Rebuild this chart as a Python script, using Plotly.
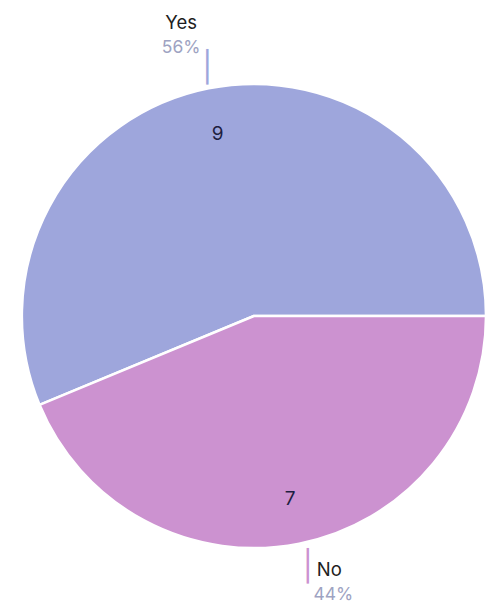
import plotly.graph_objects as go

labels = ["Yes", "No"]
values = [9, 7]
colors = ["#9ea6dc", "#cc92d0"]
pct_color = "#9ea3c2"

W, H = 491, 613
NB = "\u00a0"

# first slice ends at 3 o'clock, running counterclockwise from there
rotation = 90 - 360 * values[0] / sum(values)

common = dict(
    labels=labels,
    values=values,
    sort=False,
    direction="clockwise",
    domain=dict(x=[0.045, 1.0], y=[0.102, 0.867]),
    hoverinfo="skip",
)

pct = "<span style='color:" + pct_color + ";font-size:17.5px'>%{percent:.0%}</span>"


def bar(c):
    return ("<span style='color:" + c +
            ";font-size:30px;font-family:DejaVu Sans'>│</span>")


outside_templates = [
    "%{label}<br>" + pct + "<br>" + NB * 10 + bar(colors[0]),
    bar(colors[1]) + "%{label}<br>" + NB * 5 + pct,
]

fig = go.Figure()
# coloured slices
fig.add_trace(go.Pie(
    **common,
    rotation=rotation,
    marker=dict(colors=colors, line=dict(color="white", width=2.5)),
    textinfo="none",
))
# transparent ring carrying the slice values, placed out toward the rim
fig.add_trace(go.Pie(
    **common,
    rotation=rotation,
    hole=0.6,
    marker=dict(colors=["rgba(0,0,0,0)"] * 2, line=dict(width=0)),
    textinfo="value",
    textposition="inside",
    insidetextorientation="horizontal",
    insidetextfont=dict(family="Inter, sans-serif", size=19, color="#1e2040"),
))
# transparent layer carrying the outside labels with leader bars
fig.add_trace(go.Pie(
    **common,
    rotation=rotation + 6.5,
    marker=dict(colors=["rgba(0,0,0,0)"] * 2, line=dict(width=0)),
    texttemplate=outside_templates,
    textposition="outside",
    outsidetextfont=dict(family="Inter, sans-serif", size=18.5, color="#1e1e1e"),
))

fig.update_layout(
    width=W, height=H,
    margin=dict(l=0, r=0, t=0, b=0),
    paper_bgcolor="white",
    plot_bgcolor="white",
    showlegend=False,
)

fig.write_html("out.html")
